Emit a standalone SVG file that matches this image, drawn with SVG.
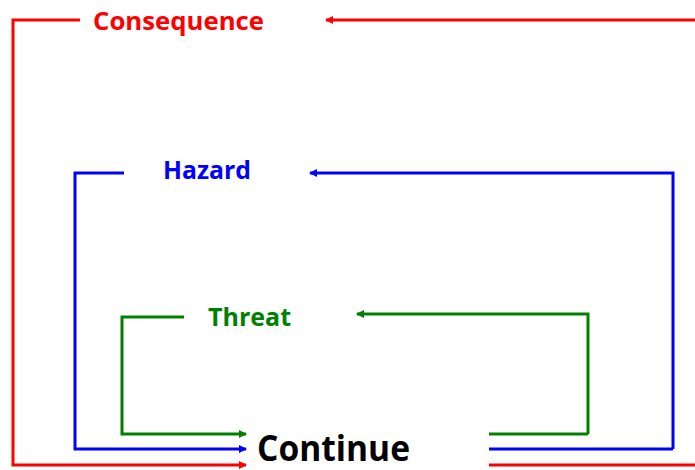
<svg xmlns="http://www.w3.org/2000/svg" width="695" height="470" viewBox="0 0 695 470">
  <style>
    .lbl { font-family: "Open Sans", "Liberation Sans", sans-serif; font-weight: bold; }
    .wire { fill: none; stroke-width: 3; stroke-linejoin: miter; }
    .red { stroke: #ff0000; }
    .blue { stroke: #0000ff; }
    .green { stroke: #008000; }
  </style>
  <defs>
    <marker id="arrRed" markerWidth="8" markerHeight="8" refX="7" refY="4" orient="auto" markerUnits="userSpaceOnUse">
      <path d="M0,0 L8,4 L0,8 Z" fill="#ff0000"/>
    </marker>
    <marker id="arrBlue" markerWidth="8" markerHeight="8" refX="7" refY="4" orient="auto" markerUnits="userSpaceOnUse">
      <path d="M0,0 L8,4 L0,8 Z" fill="#0000ff"/>
    </marker>
    <marker id="arrGreen" markerWidth="8" markerHeight="8" refX="7" refY="4" orient="auto" markerUnits="userSpaceOnUse">
      <path d="M0,0 L8,4 L0,8 Z" fill="#008000"/>
    </marker>
  </defs>
  <rect width="695" height="470" fill="#ffffff"/>

  <g id="connectors">
    <!-- consequence loop -->
    <path class="wire red" d="M695,20 H326" marker-end="url(#arrRed)"/>
    <path class="wire red" d="M80,20 H13 V465 H246" marker-end="url(#arrRed)"/>
    <path class="wire red" d="M489,465 H695"/>
    <!-- hazard loop -->
    <path class="wire blue" d="M673,449 V173 H310" marker-end="url(#arrBlue)"/>
    <path class="wire blue" d="M124,173 H75 V449 H246" marker-end="url(#arrBlue)"/>
    <path class="wire blue" d="M489,449 H673"/>
    <!-- threat loop -->
    <path class="wire green" d="M588,434 V314 H357" marker-end="url(#arrGreen)"/>
    <path class="wire green" d="M184,317 H122 V434 H246" marker-end="url(#arrGreen)"/>
    <path class="wire green" d="M489,434 H588"/>
  </g>

  <g id="consequence">
    <text class="lbl" x="93" y="30" font-size="25" fill="#ff0000" textLength="171" lengthAdjust="spacingAndGlyphs">Consequence</text>
  </g>
  <g id="hazard">
    <text class="lbl" x="163" y="179" font-size="25" fill="#0000ff" textLength="88" lengthAdjust="spacingAndGlyphs">Hazard</text>
  </g>
  <g id="threat">
    <text class="lbl" x="208" y="326" font-size="25" fill="#008000" textLength="83" lengthAdjust="spacingAndGlyphs">Threat</text>
  </g>
  <g id="continue">
    <text class="lbl" x="257" y="461" font-size="35" fill="#000000" textLength="153" lengthAdjust="spacingAndGlyphs">Continue</text>
  </g>
</svg>
